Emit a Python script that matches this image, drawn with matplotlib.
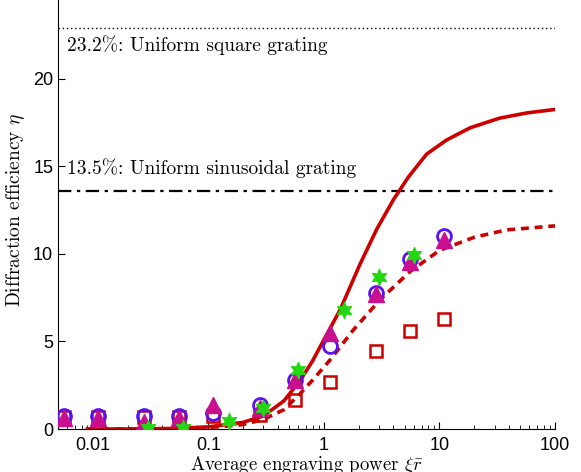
import matplotlib
matplotlib.use("Agg")
import matplotlib.pyplot as plt
import numpy as np

plt.rcParams['mathtext.fontset'] = 'cm'
plt.rcParams['font.family'] = ['Liberation Sans', 'DejaVu Sans']

# theory curves
x_solid = [0.009, 0.02, 0.05, 0.1, 0.2, 0.3, 0.45, 0.62, 0.8, 1.0, 1.38, 2.05, 2.86,
           4.0, 5.4, 7.75, 11.5, 18.4, 33.0, 57.0, 100.0]
y_solid = [0.0, 0.0, 0.03, 0.12, 0.38, 0.75, 1.6, 2.75, 3.9, 5.1, 6.8, 9.4, 11.4,
           13.1, 14.4, 15.7, 16.5, 17.2, 17.75, 18.05, 18.25]
x_dash = [0.009, 0.02, 0.05, 0.1, 0.2, 0.3, 0.45, 0.62, 0.8, 1.13, 1.8, 3.05, 5.56,
          10.0, 20.0, 38.0, 100.0]
y_dash = [0.0, 0.0, 0.02, 0.08, 0.25, 0.55, 1.1, 2.0, 2.8, 3.94, 5.66, 7.37, 8.99,
          10.2, 10.95, 11.37, 11.6]

# measured points
x_meas = [0.0056, 0.011, 0.028, 0.056, 0.11, 0.28, 0.56, 1.13, 2.8, 5.6, 11.0]
y_circ = [0.75, 0.75, 0.75, 0.75, 0.9, 1.37, 2.8, 4.76, 7.79, 9.7, 11.0]
y_tri = [0.6, 0.6, 0.42, 0.6, 1.37, 1.18, 2.8, 5.47, 7.7, 9.56, 10.8]
y_sq = [0.7, 0.7, 0.7, 0.7, 0.75, 0.8, 1.66, 2.7, 4.46, 5.6, 6.29]
x_star = [0.03, 0.06, 0.15, 0.3, 0.6, 1.5, 3.0, 6.0]
y_star = [0.04, 0.04, 0.47, 1.18, 3.37, 6.8, 8.7, 9.94]

square_level = 22.9
sine_level = 13.6

fig = plt.figure(figsize=(5.81, 4.72), dpi=100)
ax = fig.add_axes([58/581, 43/472, 497/581, 429/472])

red = '#cc0000'
ax.axhline(square_level, color='k', ls=(0, (1, 2)), lw=1.0)
ax.axhline(sine_level, color='k', ls=(0, (6, 2.5, 1.5, 2.5)), lw=1.6)
ax.plot(x_solid, y_solid, color=red, lw=2.6, zorder=3)
ax.plot(x_dash, y_dash, color=red, lw=2.6, ls=(0, (2.2, 1.6)), zorder=3)

ax.plot(x_meas, y_sq, ls='none', marker='s', ms=8, mfc='none', mec=red, mew=1.8, zorder=4)
ax.plot(x_meas, y_circ, ls='none', marker='o', ms=10, mfc='none', mec='#5a10f0', mew=2.0, zorder=5)
ax.plot(x_meas, y_tri, ls='none', marker='^', ms=12, color='#c8108f', zorder=6)
ax.scatter(x_star, y_star, marker=(6, 1, 0), s=130, color='#22d811', zorder=7)

ax.set_xscale('log')
ax.set_xlim(0.005, 100)
ax.set_ylim(0, 24.5)
ax.set_xticks([0.01, 0.1, 1, 10, 100])
ax.set_xticklabels(['0.01', '0.1', '1', '10', '100'])
ax.set_yticks([0, 5, 10, 15, 20])
ax.tick_params(which='both', direction='in', labelsize=13)
ax.tick_params(which='major', length=5, width=0.8)
ax.tick_params(which='minor', length=3, width=0.6)
ax.tick_params(axis='x', pad=6)
ax.spines['top'].set_visible(False)
ax.spines['right'].set_visible(False)

ax.text(0.006, 21.9, '23.2%: Uniform square grating', family='cmr10', fontsize=14,
        va='center')
ax.text(0.006, 14.9, '13.5%: Uniform sinusoidal grating', family='cmr10', fontsize=14,
        va='center')
ax.set_xlabel(r'Average engraving power $\xi\bar{r}$', family='cmr10', fontsize=13.5)
ax.xaxis.set_label_coords(0.5, -0.058)
ax.set_ylabel(r'Diffraction efficiency $\eta$', family='cmr10', fontsize=14)
ax.yaxis.set_label_coords(-0.062, 0.51)

fig.savefig('out.png', dpi=100)
